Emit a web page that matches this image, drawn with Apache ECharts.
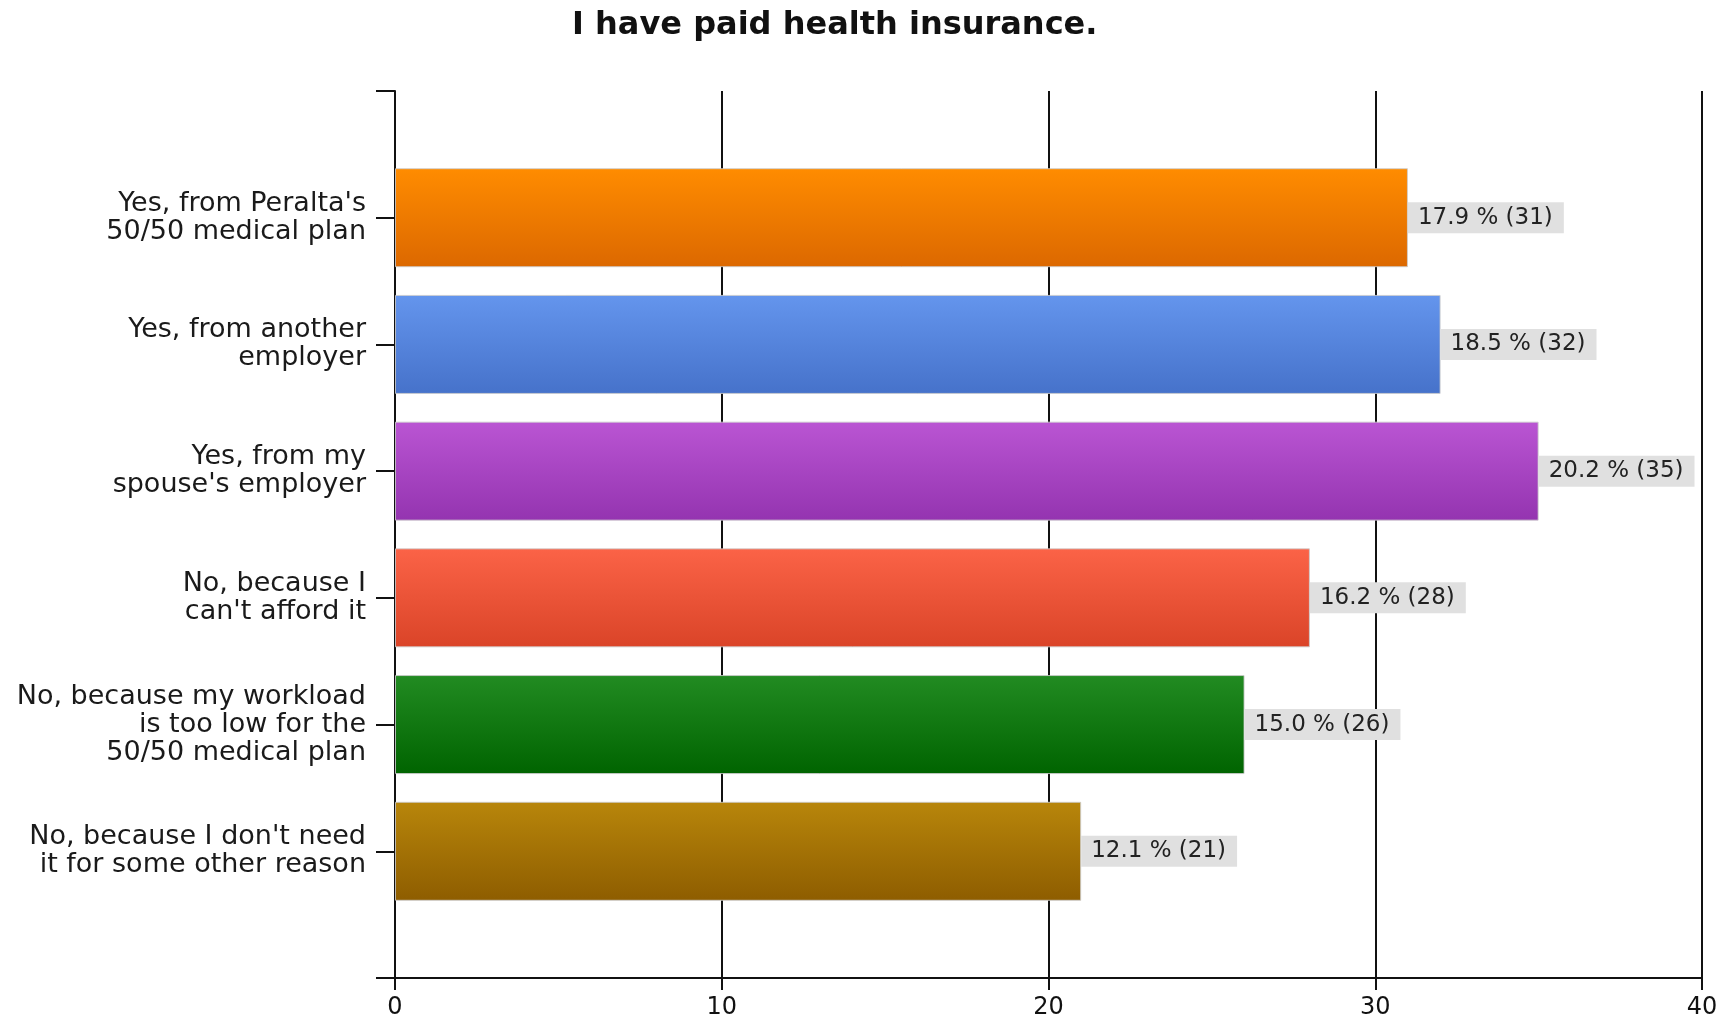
<!DOCTYPE html>
<html>
<head>
<meta charset="utf-8">
<script src="https://cdn.jsdelivr.net/npm/echarts@6/dist/echarts.min.js"></script>
<style>
  html, body { margin: 0; padding: 0; background: #ffffff; }
  #chart { width: 1735px; height: 1017px; }
</style>
</head>
<body>
<div id="chart"></div>
<script>
// Survey answers, counts and shares
const categories = [
  "Yes, from Peralta's\n50/50 medical plan",
  "Yes, from another\nemployer",
  "Yes, from my\nspouse's employer",
  "No, because I\ncan't afford it",
  "No, because my workload\nis too low for the\n50/50 medical plan",
  "No, because I don't need\nit for some other reason"
];
const counts = [31, 32, 35, 28, 26, 21];
const percents = [17.9, 18.5, 20.2, 16.2, 15.0, 12.1];
const xTicks = [0, 10, 20, 30, 40];

// gradient stops per bar: [top, bottom]
const barColors = [
  ['#ff8c00', '#dc6800'],
  ['#6495ed', '#4672ca'],
  ['#ba55d3', '#9434b0'],
  ['#fb6347', '#da4428'],
  ['#228b22', '#006400'],
  ['#b8860b', '#8e5d00']
];

// empty slot above and below the answers so each bar sits one band in from the frame
const yCats = [''].concat(categories, ['']);
const barData = ['-'].concat(counts.map((v, i) => ({
  value: v,
  itemStyle: {
    color: new echarts.graphic.LinearGradient(0, 0, 0, 1, [
      { offset: 0, color: barColors[i][0] },
      { offset: 1, color: barColors[i][1] }
    ]),
    borderColor: 'rgba(205,205,205,0.85)',
    borderWidth: 1
  }
})), ['-']);

const chart = echarts.init(document.getElementById('chart'), null, { renderer: 'canvas' });
chart.setOption({
  backgroundColor: '#ffffff',
  animation: false,
  title: {
    text: 'I have paid health insurance.',
    left: 567,
    top: 5,
    textStyle: {
      fontFamily: 'DejaVu Sans',
      fontWeight: 'bold',
      fontSize: 32,
      color: '#111111'
    }
  },
  grid: { left: 395, right: 33, top: 91, bottom: 39, containLabel: false, outerBoundsMode: 'none' },
  xAxis: {
    type: 'value',
    min: xTicks[0],
    max: xTicks[xTicks.length - 1],
    interval: xTicks[1] - xTicks[0],
    axisLine: { show: true, lineStyle: { color: '#111', width: 2 } },
    axisTick: { show: true, length: 12, lineStyle: { color: '#111', width: 2 } },
    axisLabel: {
      margin: 18,
      fontFamily: 'DejaVu Sans',
      fontSize: 24,
      color: '#111'
    },
    splitLine: { show: true, lineStyle: { color: '#111', width: 2 } }
  },
  yAxis: {
    type: 'category',
    inverse: true,
    boundaryGap: false,
    data: yCats,
    axisLine: { show: true, lineStyle: { color: '#111', width: 2 } },
    axisTick: { show: true, length: 19, alignWithLabel: true, lineStyle: { color: '#111', width: 2 } },
    axisLabel: {
      margin: 29,
      fontFamily: 'DejaVu Sans',
      fontSize: 27,
      lineHeight: 28,
      padding: [12, 0, 0, 0],
      color: '#1a1a1a',
      align: 'right'
    },
    splitLine: { show: false }
  },
  series: [{
    type: 'bar',
    data: barData,
    barWidth: 99,
    label: {
      show: true,
      position: 'right',
      distance: 0,
      formatter: p => percents[p.dataIndex - 1].toFixed(1) + ' % (' + counts[p.dataIndex - 1] + ')',
      backgroundColor: '#e0e0e0',
      padding: [4, 11, 4, 10],
      fontFamily: 'DejaVu Sans',
      fontSize: 23,
      color: '#222'
    }
  }]
});
</script>
</body>
</html>
